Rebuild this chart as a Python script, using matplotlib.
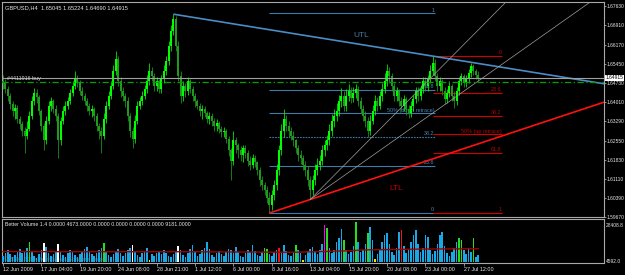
import matplotlib
matplotlib.use("Agg")
import matplotlib.pyplot as plt
import matplotlib.transforms as mtransforms

plt.rcParams['font.family'] = ['Liberation Sans', 'DejaVu Sans']

# header / order info
symbol_title = "GBPUSD,H4  1.65045 1.65224 1.64690 1.64915"
bid = 1.64915
order_price = 1.6478
order_label = "#4411916 buy"
vol_title = "Better Volume 1.4 0.0000 4673.0000 0.0000 0.0000 0.0000 0.0000 9181.0000"
copyright_txt = "\u00a9 2001-2009 MetaQuotes Software Corp."

# H4 candles (bar index 0 = 12 Jun 2009 00:00)
first_open = 1.6480
closes = [
    1.6473, 1.6450, 1.6424, 1.6394, 1.6368, 1.6379, 1.6338, 1.6319, 1.6293, 1.6274,
    1.6300, 1.6349, 1.6406, 1.6436, 1.6420, 1.6368, 1.6312, 1.6256, 1.6330, 1.6387,
    1.6406, 1.6376, 1.6349, 1.6256, 1.6330, 1.6368, 1.6387, 1.6406, 1.6436, 1.6462,
    1.6488, 1.6473, 1.6443, 1.6424, 1.6406, 1.6387, 1.6368, 1.6376, 1.6349, 1.6312,
    1.6293, 1.6274, 1.6338, 1.6387, 1.6424, 1.6462, 1.6518, 1.6563, 1.6480, 1.6443,
    1.6424, 1.6406, 1.6349, 1.6293, 1.6263, 1.6330, 1.6387, 1.6406, 1.6424, 1.6450,
    1.6480, 1.6518, 1.6499, 1.6462, 1.6480, 1.6450, 1.6488, 1.6518, 1.6556, 1.6612,
    1.6668, 1.6713, 1.6612, 1.6499, 1.6424, 1.6462, 1.6443, 1.6480, 1.6450, 1.6424,
    1.6406, 1.6387, 1.6368, 1.6376, 1.6360, 1.6338, 1.6349, 1.6330, 1.6312, 1.6323,
    1.6300, 1.6286, 1.6293, 1.6263, 1.6218, 1.6180, 1.6256, 1.6237, 1.6218, 1.6199,
    1.6226, 1.6210, 1.6180, 1.6162, 1.6188, 1.6173, 1.6143, 1.6106, 1.6087, 1.6068,
    1.6038, 1.6012, 1.6049, 1.6087, 1.6143, 1.6218, 1.6293, 1.6338, 1.6312, 1.6293,
    1.6274, 1.6256, 1.6226, 1.6199, 1.6188, 1.6162, 1.6143, 1.6106, 1.6068, 1.6106,
    1.6143, 1.6162, 1.6180, 1.6218, 1.6237, 1.6256, 1.6293, 1.6330, 1.6349, 1.6368,
    1.6406, 1.6424, 1.6387, 1.6424, 1.6443, 1.6417, 1.6436, 1.6450, 1.6406, 1.6376,
    1.6349, 1.6330, 1.6293, 1.6330, 1.6368, 1.6406, 1.6387, 1.6424, 1.6450, 1.6480,
    1.6518, 1.6499, 1.6462, 1.6424, 1.6443, 1.6406, 1.6387, 1.6413, 1.6376, 1.6360,
    1.6387, 1.6413, 1.6443, 1.6424, 1.6450, 1.6480, 1.6462, 1.6488, 1.6518, 1.6548,
    1.6499, 1.6462, 1.6480, 1.6443, 1.6413, 1.6436, 1.6462, 1.6424, 1.6406, 1.6443,
    1.6480, 1.6499, 1.6473, 1.6488, 1.6510, 1.6537, 1.6518, 1.6503, 1.64915,
]
highs = [
    1.6503, 1.6488, 1.6462, 1.6436, 1.6406, 1.6394, 1.6390, 1.6349, 1.6330, 1.6308,
    1.6330, 1.6368, 1.6424, 1.6454, 1.6450, 1.6428, 1.6376, 1.6323, 1.6349, 1.6406,
    1.6420, 1.6413, 1.6390, 1.6360, 1.6346, 1.6387, 1.6406, 1.6420, 1.6450, 1.6480,
    1.6518, 1.6503, 1.6484, 1.6458, 1.6436, 1.6417, 1.6398, 1.6390, 1.6383, 1.6360,
    1.6323, 1.6308, 1.6360, 1.6406, 1.6443, 1.6480, 1.6540, 1.6593, 1.6574, 1.6496,
    1.6458, 1.6436, 1.6420, 1.6360, 1.6308, 1.6353, 1.6406, 1.6420, 1.6443, 1.6466,
    1.6503, 1.6548, 1.6533, 1.6510, 1.6496, 1.6488, 1.6503, 1.6540, 1.6574, 1.6630,
    1.6690, 1.6732, 1.6724, 1.6630, 1.6518, 1.6480, 1.6473, 1.6496, 1.6488, 1.6462,
    1.6436, 1.6413, 1.6398, 1.6390, 1.6387, 1.6368, 1.6364, 1.6360, 1.6342, 1.6338,
    1.6330, 1.6312, 1.6308, 1.6300, 1.6274, 1.6226, 1.6293, 1.6270, 1.6248, 1.6233,
    1.6240, 1.6237, 1.6218, 1.6196, 1.6203, 1.6199, 1.6180, 1.6154, 1.6120, 1.6098,
    1.6083, 1.6060, 1.6068, 1.6106, 1.6166, 1.6240, 1.6316, 1.6376, 1.6353, 1.6330,
    1.6308, 1.6293, 1.6263, 1.6237, 1.6218, 1.6199, 1.6180, 1.6158, 1.6120, 1.6124,
    1.6166, 1.6188, 1.6199, 1.6240, 1.6256, 1.6278, 1.6316, 1.6357, 1.6376, 1.6398,
    1.6428, 1.6454, 1.6443, 1.6450, 1.6469, 1.6458, 1.6458, 1.6469, 1.6462, 1.6420,
    1.6390, 1.6368, 1.6346, 1.6353, 1.6390, 1.6428, 1.6420, 1.6443, 1.6473, 1.6510,
    1.6544, 1.6533, 1.6510, 1.6473, 1.6458, 1.6450, 1.6420, 1.6428, 1.6420, 1.6390,
    1.6406, 1.6428, 1.6458, 1.6458, 1.6466, 1.6496, 1.6496, 1.6503, 1.6540, 1.6574,
    1.6563, 1.6510, 1.6496, 1.6488, 1.6458, 1.6450, 1.6480, 1.6469, 1.6443, 1.6458,
    1.6496, 1.6510, 1.6507, 1.6503, 1.6526, 1.6548, 1.6544, 1.6526, 1.6518,
]
lows = [
    1.6450, 1.6436, 1.6406, 1.6376, 1.6349, 1.6338, 1.6323, 1.6300, 1.6274, 1.6207,
    1.6263, 1.6293, 1.6338, 1.6390, 1.6398, 1.6353, 1.6293, 1.6218, 1.6244, 1.6316,
    1.6368, 1.6360, 1.6330, 1.6188, 1.6237, 1.6316, 1.6353, 1.6376, 1.6394, 1.6424,
    1.6450, 1.6458, 1.6428, 1.6409, 1.6390, 1.6368, 1.6353, 1.6346, 1.6330, 1.6293,
    1.6263, 1.6207, 1.6263, 1.6323, 1.6376, 1.6413, 1.6450, 1.6503, 1.6462, 1.6420,
    1.6406, 1.6383, 1.6330, 1.6270, 1.6229, 1.6248, 1.6316, 1.6376, 1.6390, 1.6413,
    1.6436, 1.6466, 1.6480, 1.6443, 1.6443, 1.6436, 1.6436, 1.6473, 1.6503, 1.6540,
    1.6593, 1.6653, 1.6593, 1.6480, 1.6398, 1.6406, 1.6420, 1.6428, 1.6436, 1.6406,
    1.6383, 1.6376, 1.6349, 1.6338, 1.6346, 1.6323, 1.6316, 1.6312, 1.6293, 1.6293,
    1.6282, 1.6267, 1.6270, 1.6248, 1.6196, 1.6106, 1.6162, 1.6210, 1.6188, 1.6180,
    1.6173, 1.6188, 1.6158, 1.6143, 1.6150, 1.6154, 1.6124, 1.6083, 1.6068, 1.6049,
    1.6019, 1.5982, 1.5993, 1.6030, 1.6068, 1.6124, 1.6199, 1.6270, 1.6293, 1.6270,
    1.6256, 1.6233, 1.6210, 1.6180, 1.6166, 1.6143, 1.6120, 1.6083, 1.6034, 1.6049,
    1.6087, 1.6124, 1.6143, 1.6162, 1.6196, 1.6218, 1.6237, 1.6274, 1.6308, 1.6330,
    1.6349, 1.6383, 1.6368, 1.6368, 1.6406, 1.6398, 1.6402, 1.6417, 1.6387, 1.6360,
    1.6330, 1.6308, 1.6267, 1.6278, 1.6316, 1.6353, 1.6368, 1.6376, 1.6406, 1.6436,
    1.6462, 1.6473, 1.6443, 1.6406, 1.6406, 1.6387, 1.6368, 1.6368, 1.6353, 1.6342,
    1.6346, 1.6368, 1.6398, 1.6406, 1.6409, 1.6436, 1.6443, 1.6443, 1.6473, 1.6503,
    1.6480, 1.6443, 1.6443, 1.6428, 1.6394, 1.6398, 1.6420, 1.6406, 1.6379, 1.6390,
    1.6428, 1.6466, 1.6458, 1.6458, 1.6473, 1.6496, 1.6503, 1.6488, 1.6480,
]

# Better Volume
volumes = [
    4300, 6400, 8500, 5700, 3600, 5000, 7100, 9200, 6400, 7800,
    9900, 14200, 7100, 4300, 2800, 5700, 8500, 13500, 10700, 6400,
    4300, 5700, 7800, 12800, 7100, 5000, 3600, 6400, 8500, 7100,
    5000, 3600, 5700, 7100, 9200, 10700, 7800, 5700, 4300, 6400,
    8500, 9900, 13500, 7100, 5000, 3600, 5700, 7800, 9200, 6400,
    4300, 6400, 8500, 9900, 12100, 7100, 5000, 3600, 6400, 7800,
    9900, 1400, 5700, 4300, 6400, 7100, 5700, 8500, 6400, 4300,
    3600, 5700, 7800, 11400, 8500, 5000, 3600, 6400, 9200, 12100,
    7800, 4300, 5700, 8500, 9900, 14200, 9200, 5000, 3600, 6400,
    7800, 5700, 4300, 7100, 9200, 8500, 6400, 10700, 7100, 4300,
    3600, 6400, 8500, 7100, 12100, 7800, 5000, 4300, 7100, 9900,
    9200, 5700, 4300, 7100, 8500, 9900, 6400, 12100, 7800, 5000,
    4300, 7100, 12100, 8500, 6400, 1400, 5000, 7800, 9200, 10700,
    7100, 5700, 8500, 12800, 26300, 24100, 9900, 6400, 8500, 14200,
    17000, 23400, 15600, 8500, 5700, 7100, 11400, 28408.8, 14200, 7100,
    8500, 12800, 20600, 24900, 15600, 2100, 5700, 8500, 14200, 19200,
    20600, 12800, 7100, 5000, 9900, 21300, 22700, 11400, 6400, 8500,
    14200, 19200, 22700, 12800, 7100, 9900, 19200, 17800, 8500, 5700,
    7800, 12800, 19200, 21300, 11400, 6400, 4300, 7100, 9900, 14200,
    17000, 15600, 8500, 5700, 9900, 7100, 17000, 3600, 5000,
]
vol_kind = {11: 'churn', 17: 'climax_dn', 23: 'climax_dn', 42: 'churn', 54: 'climax_dn',
            61: 'low', 73: 'climax_dn', 109: 'churn', 110: 'churn', 115: 'climax_up',
            122: 'churn', 125: 'low', 134: 'climax_churn', 135: 'churn', 142: 'churn',
            147: 'churn', 152: 'churn', 155: 'low', 166: 'climax_up', 190: 'churn',
            191: 'churn', 196: 'churn'}
vol_colors = {'normal': '#1aa7e6', 'churn': '#22e01e', 'climax_dn': '#ffffff',
              'climax_up': '#ff1010', 'climax_churn': '#ff00ff', 'low': '#ffe000'}
vol_ma_bars = [0, 40, 80, 120, 130, 145, 150, 160, 175, 198]
vol_ma = [7400, 7300, 7300, 6900, 7300, 8000, 8600, 8800, 9200, 9400]
vol_max_label = "28408.8"
vol_min_label = "4592.0"

price_ticks = [1.67630, 1.66910, 1.66170, 1.65450, 1.64730, 1.64010,
               1.63290, 1.62550, 1.61830, 1.61110, 1.60390, 1.59670]
time_tick_bars = [0, 16, 32, 48, 64, 80, 96, 112, 128, 144, 160, 176, 192]
time_labels = ["12 Jun 2009", "17 Jun 04:00", "19 Jun 20:00", "24 Jun 08:00",
               "28 Jun 21:00", "1 Jul 12:00", "6 Jul 00:00", "8 Jul 16:00",
               "13 Jul 04:00", "15 Jul 20:00", "20 Jul 08:00", "23 Jul 00:00",
               "27 Jul 12:00"]

# objects drawn on the chart (bar index, price)
utl = [(71, 1.6732), (179, 1.6574)]
ltl = [(111, 1.5982), (128, 1.6033)]
fan_lines = [[(128, 1.6033), (209, 1.6773)], [(128, 1.6033), (245, 1.6780)]]
fib_down = {'p0': 1.5982, 'p1': 1.6735, 'x0': 111, 'x1': 180}
fib_up = {'p0': 1.6576, 'p1': 1.5982, 'x0': 179, 'x1': 208}
fib_ratios = [0.0, 0.236, 0.382, 0.5, 0.618, 1.0]
fib_down_text = ["0", "23.6", "38.2", "50% (down retrace)", "61.8", "1"]
fib_up_text = ["0", "23.6", "38.2", "50% (up retrace)", "61.8", "1"]
utl_label = (146, 1.6646)
ltl_label = (161, 1.6068)

BG = '#000000'
FRAME = '#a8a8a8'
TXT = '#e8e8e8'
BLUE = '#3d7aa8'
RED = '#d00000'

W, H = 625, 275
fig = plt.figure(figsize=(W / 100, H / 100), dpi=100, facecolor=BG)
ax = fig.add_axes([2 / W, 58 / H, 602 / W, 215 / H], facecolor=BG)
axv = fig.add_axes([2 / W, 12 / H, 602 / W, 44 / H], facecolor=BG)

x_left, x_right = -0.42, 250.4
ax.set_xlim(x_left, x_right)
ax.set_ylim(1.5967, 1.6778)
axv.set_xlim(x_left, x_right)
axv.set_ylim(-710, 30530)

for a in (ax, axv):
    for s in a.spines.values():
        s.set_color(FRAME)
        s.set_linewidth(0.8)

# candles
opens = [first_open] + closes[:-1]
n = len(closes)
for i in range(n):
    o, c = opens[i], closes[i]
    up = c >= o
    col = '#00ff00' if up else '#1f9a1f'
    hi = max(highs[i], o, c)
    lo = min(lows[i], o, c)
    ax.vlines(i, lo, hi, color=col, lw=0.55, zorder=3)
    ax.bar(i, max(abs(c - o), 0.00008), bottom=min(o, c), width=0.78,
           color=col, linewidth=0, zorder=3)

# fibonacci retracements
for fib, texts, col, tcol in ((fib_down, fib_down_text, BLUE, '#4a86b4'),
                              (fib_up, fib_up_text, RED, '#c00000')):
    for r, t in zip(fib_ratios, texts):
        p = fib['p0'] + r * (fib['p1'] - fib['p0'])
        ls = (0, (1.5, 1)) if (col == BLUE and r == 0.382) else '-'
        ax.hlines(p, fib['x0'], fib['x1'], colors=col, lw=0.8, linestyles=ls, zorder=2)
        ax.text(fib['x1'] - 0.3, p + 0.0002, t, ha='right', va='bottom',
                fontsize=3.9, color=tcol, zorder=2)

# trend lines (rays to the right edge)
for (xa, pa), (xb, pb), col in ((utl[0], utl[1], '#4a8cc4'), (ltl[0], ltl[1], '#ff1010')):
    slope = (pb - pa) / (xb - xa)
    ax.plot([xa, x_right], [pa, pa + slope * (x_right - xa)], color=col, lw=1.2,
            zorder=4, solid_capstyle='butt')
for (xa, pa), (xb, pb) in fan_lines:
    ax.plot([xa, xb], [pa, pb], color='#a0a0a0', lw=0.5, zorder=4)

ax.text(utl_label[0], utl_label[1], "UTL", fontsize=6, color='#4a7aa0', zorder=5)
ax.text(ltl_label[0], ltl_label[1], "LTL", fontsize=6, color='#c00000', zorder=5)

# bid line and order line
ax.axhline(bid, color='#a0a0a0', lw=0.8, zorder=5)
ax.axhline(order_price, color='#00a000', lw=0.9, dashes=(5, 2, 1, 2), zorder=5)
ax.text(1.5, order_price + 0.0003, order_label, fontsize=3.9, color='#d0d0d0',
        va='bottom', ha='left', zorder=6)

ax.text(0.005, 0.985, symbol_title, transform=ax.transAxes, fontsize=4.1,
        color=TXT, va='top', ha='left')

# price axis
ax.yaxis.tick_right()
ax.set_yticks(price_ticks)
ax.set_yticklabels(['%.5f' % v for v in price_ticks])
ax.tick_params(axis='y', colors=FRAME, labelcolor=TXT, labelsize=3.5, length=1.5,
               width=0.6, pad=0.5)
ax.set_xticks([])
trans = mtransforms.blended_transform_factory(ax.transAxes, ax.transData)
ax.text(1.0025, bid, "%.5f" % bid, transform=trans, fontsize=3.5, color='black',
        va='center', ha='left', clip_on=False, zorder=10,
        bbox=dict(facecolor='white', edgecolor='none', pad=0.5))

# volume panel
bar_cols = [vol_colors[vol_kind.get(i, 'normal')] for i in range(len(volumes))]
axv.bar(range(len(volumes)), volumes, width=0.7, color=bar_cols, linewidth=0, zorder=3)
axv.plot(vol_ma_bars, vol_ma, color='#a00000', lw=1.0, zorder=4)
axv.text(0.005, 0.93, vol_title, transform=axv.transAxes, fontsize=3.8, color=TXT,
         va='top', ha='left')
axv.text(0.004, 0.02, copyright_txt, transform=axv.transAxes, fontsize=3.9,
         color='#6a6a6a', va='bottom', ha='left', zorder=1)
axv.set_yticks([])
axv.text(1.003, 0.86, vol_max_label, transform=axv.transAxes, fontsize=3.5,
         color=TXT, va='center', ha='left', clip_on=False)
axv.text(1.003, 0.04, vol_min_label, transform=axv.transAxes, fontsize=3.5,
         color=TXT, va='center', ha='left', clip_on=False)

axv.set_xticks(time_tick_bars)
axv.set_xticklabels(time_labels)
for lab in axv.get_xticklabels():
    lab.set_horizontalalignment('left')
axv.tick_params(axis='x', colors=FRAME, labelcolor=TXT, labelsize=3.9, length=2,
                width=0.6, pad=1.2)

fig.savefig("out.png", dpi=100, facecolor=BG)
